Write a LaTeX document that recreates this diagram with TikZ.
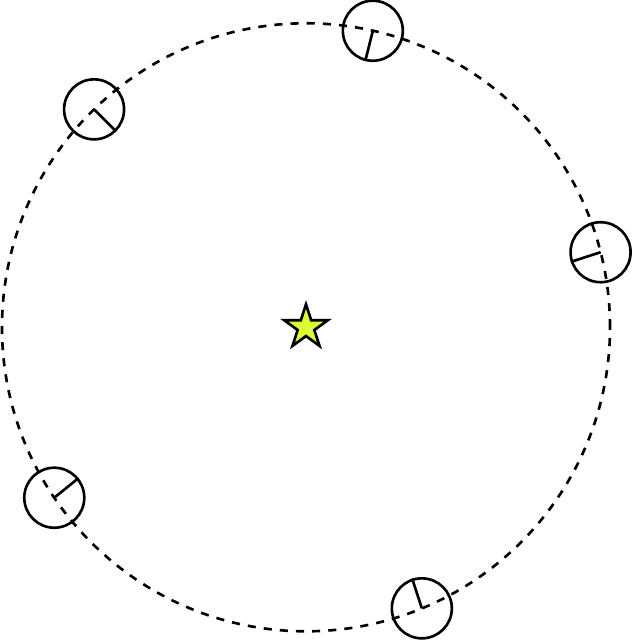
\documentclass[tikz,border=0pt]{standalone}
\usepackage{tikz}
\usetikzlibrary{shapes.geometric}
\definecolor{starfill}{RGB}{221,252,52}

\begin{document}
\begin{tikzpicture}[line width=0.75pt,
    orbit/.style={dash pattern=on 2.3pt off 2.3pt},
    planet/.style={draw, circle, minimum size=0.6cm, inner sep=0pt},
    sun/.style={draw, star, star points=5, star point ratio=2.618, fill=starfill, minimum size=0.46cm, inner sep=0pt}]
        \useasboundingbox (-3.06,-3.147) rectangle (3.26,3.273);

        \node (s) [sun] at (0,0) {};
        \draw[orbit] (s.center) circle (3.04cm);

        \foreach \name/\pos/\dir in {p1/77.3/256, p2/134.2/315, p3/14.3/198, p4/214.1/39.5, p5/292.4/108}{
            \node (\name) [planet] at (\pos:3.04) {};
            \draw (\name.center) -- (\name.\dir);
        }
      \end{tikzpicture}
\end{document}
